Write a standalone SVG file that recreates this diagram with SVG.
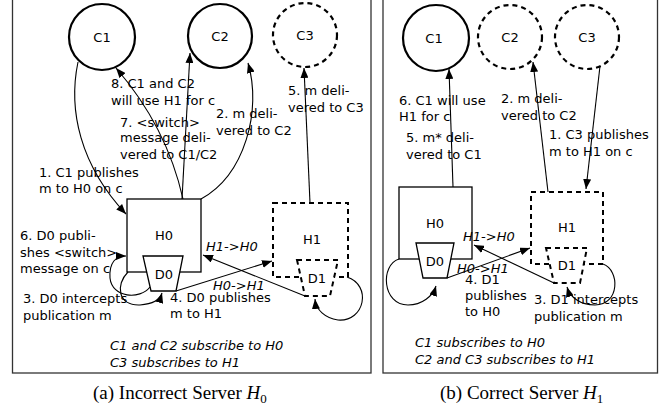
<svg xmlns="http://www.w3.org/2000/svg" width="665" height="413" viewBox="0 0 665 413">
<defs>
<marker id="ah" viewBox="0 0 10 8" refX="10" refY="4" markerWidth="10" markerHeight="8" markerUnits="userSpaceOnUse" orient="auto">
<path d="M0,0 L10,4 L0,8 z" fill="#000"/>
</marker>
<style>
text{font-family:"DejaVu Sans",Verdana,sans-serif;font-size:13px;fill:#000}
.it{font-style:italic}
.cap{font-family:"Liberation Serif","Times New Roman",serif;font-size:19px}
.frame{fill:none;stroke:#333;stroke-width:1.3}
.cs{fill:#fff;stroke:#000;stroke-width:2.2}
.cd{fill:#fff;stroke:#000;stroke-width:2.2;stroke-dasharray:5 4}
.bx{fill:#fff;stroke:#000;stroke-width:1.3}
.bd{fill:#fff;stroke:#000;stroke-width:2;stroke-dasharray:5 4}
.e{fill:none;stroke:#000;stroke-width:1.1;marker-end:url(#ah)}
.c{text-anchor:middle}
</style>
</defs>
<rect class="frame" x="12.5" y="-3" width="358.5" height="376"/>
<rect class="frame" x="383" y="-3" width="274.5" height="376"/>

<!-- panel a nodes -->
<g id="a-C1"><circle class="cs" cx="102" cy="37" r="33"/><text class="c" x="102" y="42">C1</text></g>
<g id="a-C2"><circle class="cs" cx="220" cy="36" r="32"/><text class="c" x="220" y="41">C2</text></g>
<g id="a-C3"><circle class="cd" cx="305" cy="35" r="32"/><text class="c" x="305" y="40">C3</text></g>
<g id="a-H0"><rect class="bx" x="127" y="199" width="74" height="73"/><text class="c" x="164" y="240">H0</text></g>
<g id="a-D0"><path class="bx" d="M143,256 L183,256 L176,291 L151,291 z"/><text class="c" x="164" y="279">D0</text></g>
<g id="a-H1"><rect class="bd" x="273" y="203" width="75" height="74"/><text class="c" x="312" y="244">H1</text></g>
<g id="a-D1"><path class="bd" d="M297,260 L338,260 L330,296 L305,296 z"/><text class="c" x="317" y="283">D1</text></g>

<!-- panel b nodes -->
<g id="b-C1"><circle class="cs" cx="436" cy="38" r="33"/><text class="c" x="434" y="43">C1</text></g>
<g id="b-C2"><circle class="cd" cx="510" cy="37" r="32"/><text class="c" x="510" y="42">C2</text></g>
<g id="b-C3"><circle class="cd" cx="587" cy="37" r="32"/><text class="c" x="587" y="42">C3</text></g>
<g id="b-H0"><rect class="bx" x="399" y="187" width="73" height="72"/><text class="c" x="435" y="228">H0</text></g>
<g id="b-D0"><path class="bx" d="M416,243 L454,243 L447,278 L423,278 z"/><text class="c" x="435" y="266">D0</text></g>
<g id="b-H1"><rect class="bd" x="531" y="192" width="72" height="72"/><text class="c" x="567" y="232">H1</text></g>
<g id="b-D1"><path class="bd" d="M546,248 L587,248 L580,283 L554,283 z"/><text class="c" x="567" y="270">D1</text></g>

<g id="connectors">
<path class="e" d="M78,62 C68,110 80,165 126,214"/>
<path class="e" d="M183,199 C172,150 148,105 116,68"/>
<path class="e" d="M182,199 L190,53"/>
<path class="e" d="M201,199 C245,175 262,110 248,63"/>
<path class="e" d="M310,203 L304,68"/>
<path class="e" d="M176,291 L272,261"/>
<path class="e" d="M305,296 L203,255"/>
<path class="e" d="M128,272 C115,285 118,306 140,305 C152,304 160,300 162,293"/>
<path class="e" d="M150,287 C140,300 112,298 110,278 C109,262 116,256 126,256"/>
<path class="e" d="M347,277 C372,285 365,322 338,320 C325,318 316,310 315,299"/>

<path class="e" d="M453,187 L449,69"/>
<path class="e" d="M548,192 L533,62"/>
<path class="e" d="M600,66 L586,189"/>
<path class="e" d="M447,278 L530,248"/>
<path class="e" d="M554,283 L474,245"/>
<path class="e" d="M399,259 C380,265 382,305 408,305 C422,305 433,296 436,286"/>
<path class="e" d="M603,264 C620,270 620,305 595,305 C580,305 570,297 567,287"/>
</g>

<!-- panel a labels -->
<text x="111" y="88">8. C1 and C2</text>
<text x="111" y="105">will use H1 for c</text>
<text x="120" y="127">7. &lt;switch&gt;</text>
<text x="120" y="142">message deli-</text>
<text x="120" y="159">vered to C1/C2</text>
<text x="216" y="118">2. m deli-</text>
<text x="216" y="135">vered to C2</text>
<text x="288" y="95">5. m deli-</text>
<text x="288" y="112">vered to C3</text>
<text x="39" y="177">1. C1 publishes</text>
<text x="39" y="193">m to H0 on c</text>
<text x="20" y="240">6. D0 publi-</text>
<text x="20" y="257">shes &lt;switch&gt;</text>
<text x="20" y="273">message on c</text>
<text x="23" y="303">3. D0 intercepts</text>
<text x="23" y="320">publication m</text>
<text x="170" y="302">4. D0 publishes</text>
<text x="170" y="318">m to H1</text>
<text class="it" x="206" y="251">H1-&gt;H0</text>
<text class="it" x="213" y="290">H0-&gt;H1</text>
<text class="it" x="110" y="350">C1 and C2 subscribe to H0</text>
<text class="it" x="110" y="367">C3 subscribes to H1</text>

<!-- panel b labels -->
<text x="399" y="105">6. C1 will use</text>
<text x="399" y="121">H1 for c</text>
<text x="406" y="142">5. m* deli-</text>
<text x="406" y="159">vered to C1</text>
<text x="501" y="103">2. m deli-</text>
<text x="501" y="120">vered to C2</text>
<text x="549" y="139">1. C3 publishes</text>
<text x="549" y="156">m to H1 on c</text>
<text x="465" y="284">4. D1</text>
<text x="465" y="300">publishes</text>
<text x="465" y="316">to H0</text>
<text x="534" y="304">3. D1 intercepts</text>
<text x="534" y="321">publication m</text>
<text class="it" x="463" y="241">H1-&gt;H0</text>
<text class="it" x="457" y="273">H0-&gt;H1</text>
<text class="it" x="415" y="347">C1 subscribes to H0</text>
<text class="it" x="415" y="364">C2 and C3 subscribes to H1</text>

<text class="cap" x="93" y="399">(a) Incorrect Server <tspan font-style="italic">H</tspan><tspan font-size="13" dy="4">0</tspan></text>
<text class="cap" x="440" y="399">(b) Correct Server <tspan font-style="italic">H</tspan><tspan font-size="13" dy="4">1</tspan></text>
</svg>
